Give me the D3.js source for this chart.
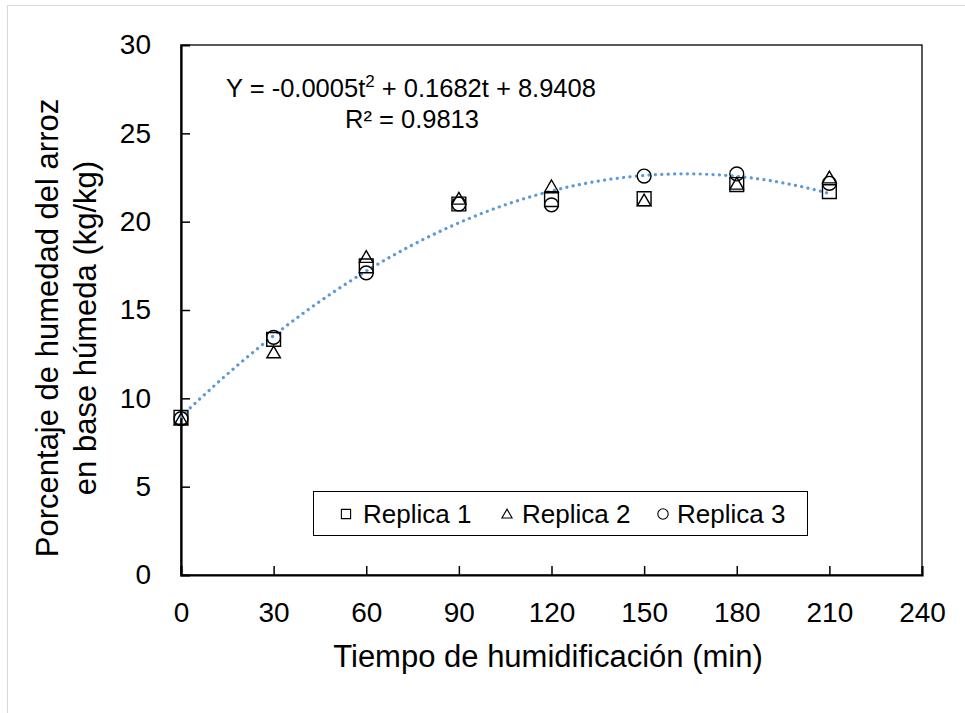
<!DOCTYPE html>
<html><head><meta charset="utf-8">
<script src="https://cdn.jsdelivr.net/npm/d3@7"></script>
<style>body{margin:0;background:#fff;} text{font-family:"Liberation Sans",Arial,sans-serif;}</style>
</head><body>
<svg id="c" width="965" height="713"></svg>
<script>
const times = [0, 30, 60, 90, 120, 150, 180, 210];
const replica1 = [8.93, 13.34, 17.5, 21.0, 21.25, 21.3, 22.1, 21.7];
const replica2 = [8.8, 12.6, 18.0, 21.3, 22.0, 21.2, 22.15, 22.5];
const replica3 = [8.85, 13.45, 17.1, 21.0, 20.95, 22.58, 22.7, 22.17];
const seriesNames = ["Replica 1", "Replica 2", "Replica 3"];
const xTicks = [0, 30, 60, 90, 120, 150, 180, 210, 240];
const yTicks = [0, 5, 10, 15, 20, 25, 30];

const svg = d3.select("#c");
const m = {l:181, r:922, t:45, b:575};
const x = d3.scaleLinear().domain([0,240]).range([m.l, m.r]);
const y = d3.scaleLinear().domain([0,30]).range([m.b, m.t]);

// outer light border
svg.append("rect").attr("x",7.5).attr("y",5.5).attr("width",970).attr("height",720)
  .attr("fill","none").attr("stroke","#d9d9d9").attr("stroke-width",1);

// plot frame
svg.append("rect").attr("x",m.l).attr("y",m.t).attr("width",m.r-m.l).attr("height",m.b-m.t)
  .attr("fill","none").attr("stroke","#000").attr("stroke-width",1.3);

// axes
const xa = svg.append("g").attr("transform",`translate(0,${m.b})`)
  .call(d3.axisBottom(x).tickValues(xTicks).tickSize(-9).tickFormat(d3.format("d")));
const ya = svg.append("g").attr("transform",`translate(${m.l},0)`)
  .call(d3.axisLeft(y).tickValues(yTicks).tickSize(-9).tickPadding(30).tickFormat(d3.format("d")));
[xa,ya].forEach(a=>{
  a.select(".domain").attr("stroke","#000").attr("stroke-width",2.2);
  a.selectAll(".tick line").attr("stroke","#000").attr("stroke-width",1.5);
  a.selectAll(".tick text").attr("font-size",28).attr("fill","#000").attr("font-family","Liberation Sans, Arial, sans-serif");
});
xa.selectAll(".tick text").attr("dy","0.35em").attr("y",37);
xa.selectAll(".tick line").filter(d=>d===0||d===240).remove();
ya.selectAll(".tick line").filter(d=>d===0||d===30).remove();

// trendline: least squares quadratic of all replicas
const pts = [];
[replica1,replica2,replica3].forEach(s=>s.forEach((v,i)=>pts.push([times[i],v])));
function quadFit(p){
  let S=[0,0,0,0,0], T=[0,0,0];
  p.forEach(([t,v])=>{for(let k=0;k<5;k++)S[k]+=Math.pow(t,k);for(let k=0;k<3;k++)T[k]+=v*Math.pow(t,k);});
  const A=[[S[0],S[1],S[2],T[0]],[S[1],S[2],S[3],T[1]],[S[2],S[3],S[4],T[2]]];
  for(let i=0;i<3;i++){for(let j=i+1;j<3;j++){const f=A[j][i]/A[i][i];for(let k=i;k<4;k++)A[j][k]-=f*A[i][k];}}
  const c=[0,0,0];
  for(let i=2;i>=0;i--){let s=A[i][3];for(let k=i+1;k<3;k++)s-=A[i][k]*c[k];c[i]=s/A[i][i];}
  return c;
}
const cf = quadFit(pts);
const curve = d3.range(0,210.01,1).map(t=>[t, cf[0]+cf[1]*t+cf[2]*t*t]);
svg.append("path").datum(curve)
  .attr("d", d3.line().x(d=>x(d[0])).y(d=>y(d[1])))
  .attr("fill","none").attr("stroke","#5b9bd5").attr("stroke-width",3.2)
  .attr("stroke-linecap","round").attr("stroke-dasharray","0.1 6.3");

// markers
const sq = d3.symbol().type(d3.symbolSquare).size(190);
const tri = d3.symbol().type(d3.symbolTriangle).size(80);
const cir = d3.symbol().type(d3.symbolCircle).size(150);
const syms = [sq, tri, cir];
const allSeries = [replica1, replica2, replica3];
allSeries.forEach((s,si)=>{
  svg.append("g").selectAll("path").data(s).join("path")
    .attr("transform",(d,i)=>`translate(${x(times[i])},${y(d) + (si===1?1.5:0)})`)
    .attr("d", syms[si]()).attr("fill","none").attr("stroke","#000").attr("stroke-width",1.4);
});

// equation
const eq = svg.append("text").attr("x",411).attr("y",97).attr("text-anchor","middle").attr("font-size",25.5).attr("fill","#000");
eq.append("tspan").text("Y = -0.0005t");
eq.append("tspan").attr("dy",-10).attr("font-size",17).text("2");
eq.append("tspan").attr("dy",10).text(" + 0.1682t + 8.9408");
svg.append("text").attr("x",412).attr("y",128).attr("text-anchor","middle").attr("font-size",25.5).attr("fill","#000").text("R² = 0.9813");

// legend
const lg = svg.append("g");
lg.append("rect").attr("x",313.5).attr("y",491.5).attr("width",494).attr("height",44)
  .attr("fill","#fff").attr("stroke","#000").attr("stroke-width",1);
const lx = [346, 507, 663];
const ltx = [363, 522, 677];
const lsyms = [d3.symbol().type(d3.symbolSquare).size(85), d3.symbol().type(d3.symbolTriangle).size(45), d3.symbol().type(d3.symbolCircle).size(85)];
seriesNames.forEach((n,i)=>{
  lg.append("path").attr("transform",`translate(${lx[i]},${514 + (i===1?1:0)})`).attr("d",lsyms[i]())
    .attr("fill","none").attr("stroke","#000").attr("stroke-width",1.1);
  lg.append("text").attr("x",ltx[i]).attr("y",523).attr("font-size",26).attr("fill","#000").text(n);
});

// axis titles
svg.append("text").attr("x",548).attr("y",667).attr("text-anchor","middle").attr("font-size",31).attr("fill","#000")
  .text("Tiempo de humidificación (min)");
const yt = svg.append("text").attr("transform","translate(0,328) rotate(-90)").attr("text-anchor","middle").attr("font-size",31).attr("fill","#000");
yt.append("tspan").attr("x",0).attr("y",58).text("Porcentaje de humedad del arroz");
yt.append("tspan").attr("x",0).attr("y",96).text("en base húmeda (kg/kg)");
</script>
</body></html>
